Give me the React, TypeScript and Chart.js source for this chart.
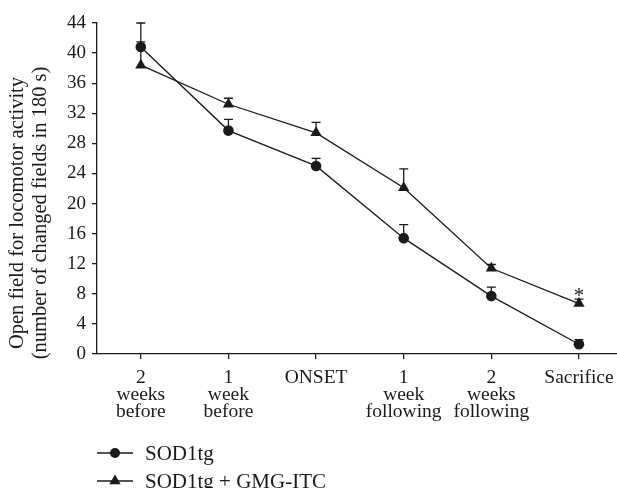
import React, { useEffect, useRef } from "react";
import { Chart, registerables } from "chart.js";

Chart.register(...registerables);

const categoryLabels: string[][] = [
  ["2", "weeks", "before"],
  ["1", "week", "before"],
  ["ONSET"],
  ["1", "week", "following"],
  ["2", "weeks", "following"],
  ["Sacrifice"],
];
const sod1Values = [40.8, 29.7, 25.0, 15.4, 7.7, 1.3];
const sod1ErrTop = [44.0, 31.2, 26.0, 17.2, 8.9, 1.9];
const gmgValues = [38.4, 33.2, 29.4, 22.1, 11.4, 6.7];
const gmgErrTop = [41.5, 34.0, 30.8, 24.6, 11.9, 7.3];
const significantIdx = [5];
const seriesNames = ["SOD1tg", "SOD1tg + GMG-ITC"];
const yTitle = ["Open field for locomotor activity", "(number of changed fields in 180 s)"];

const FONT = "'Liberation Serif', 'DejaVu Serif', serif";
const INK = "#1a1a1a";

export default function App() {
  const ref = useRef<HTMLCanvasElement | null>(null);
  useEffect(() => {
    if (!ref.current) return;
    const errTops = [sod1ErrTop, gmgErrTop];

    const errorBars = {
      id: "errorBars",
      beforeDatasetsDraw(chart: any) {
        const ctx = chart.ctx;
        const xs = chart.scales.x;
        const ys = chart.scales.y;
        ctx.save();
        ctx.strokeStyle = INK;
        ctx.lineWidth = 1.3;
        chart.data.datasets.forEach((ds: any, i: number) => {
          ds.data.forEach((p: any, j: number) => {
            const x = xs.getPixelForValue(p.x);
            const y0 = ys.getPixelForValue(p.y);
            const y1 = ys.getPixelForValue(errTops[i][j]);
            ctx.beginPath();
            ctx.moveTo(x, y0);
            ctx.lineTo(x, y1);
            ctx.moveTo(x - 4.5, y1);
            ctx.lineTo(x + 4.5, y1);
            ctx.stroke();
          });
        });
        ctx.restore();
      },
      afterDatasetsDraw(chart: any) {
        const ctx = chart.ctx;
        const xs = chart.scales.x;
        const ys = chart.scales.y;
        ctx.save();
        ctx.fillStyle = INK;
        ctx.font = `21px ${FONT}`;
        ctx.textAlign = "center";
        ctx.textBaseline = "alphabetic";
        significantIdx.forEach((j) => {
          const x = xs.getPixelForValue(j);
          const y = ys.getPixelForValue(gmgErrTop[j]);
          ctx.fillText("*", x, y + 3);
        });
        ctx.restore();
      },
    };

    const yTitlePlugin = {
      id: "yTitlePlugin",
      afterDraw(chart: any) {
        const ctx = chart.ctx;
        ctx.save();
        ctx.fillStyle = INK;
        ctx.font = `20.5px ${FONT}`;
        ctx.textAlign = "center";
        ctx.textBaseline = "middle";
        const xs = [18, 41];
        const cy = 213;
        yTitle.forEach((t, i) => {
          ctx.save();
          ctx.translate(xs[i], cy);
          ctx.rotate(-Math.PI / 2);
          ctx.fillText(t, 0, 0);
          ctx.restore();
        });
        ctx.restore();
      },
    };

    const customLegend = {
      id: "customLegend",
      afterDraw(chart: any) {
        const ctx = chart.ctx;
        ctx.save();
        const rowsY = [453, 481];
        chart.data.datasets.forEach((ds: any, i: number) => {
          const y = rowsY[i];
          ctx.strokeStyle = INK;
          ctx.lineWidth = 1.3;
          ctx.beginPath();
          ctx.moveTo(97, y);
          ctx.lineTo(133, y);
          ctx.stroke();
          ctx.fillStyle = INK;
          ctx.beginPath();
          if (i === 0) {
            ctx.arc(115, y, 5, 0, Math.PI * 2);
          } else {
            const r = 6.5;
            ctx.moveTo(115, y - r);
            ctx.lineTo(115 + r * 0.866, y + r / 2);
            ctx.lineTo(115 - r * 0.866, y + r / 2);
            ctx.closePath();
          }
          ctx.fill();
          ctx.font = `21px ${FONT}`;
          ctx.textAlign = "left";
          ctx.textBaseline = "middle";
          ctx.fillText(seriesNames[i], 145, y + 1);
        });
        ctx.restore();
      },
    };

    const chart = new Chart(ref.current, {
      type: "line",
      data: {
        datasets: [
          {
            label: seriesNames[0],
            data: sod1Values.map((v, i) => ({ x: i, y: v })),
            borderColor: INK,
            backgroundColor: INK,
            borderWidth: 1.3,
            pointStyle: "circle",
            pointRadius: 5.3,
            pointBorderWidth: 0,
            tension: 0,
          },
          {
            label: seriesNames[1],
            data: gmgValues.map((v, i) => ({ x: i, y: v })),
            borderColor: INK,
            backgroundColor: INK,
            borderWidth: 1.3,
            pointStyle: "triangle",
            pointRadius: 6.5,
            pointBorderWidth: 0,
            tension: 0,
          },
        ],
      },
      options: {
        animation: false,
        responsive: false,
        maintainAspectRatio: false,
        layout: { autoPadding: false, padding: { top: 23, right: 0, bottom: 0, left: 0 } },
        plugins: {
          legend: { display: false },
          tooltip: { enabled: false },
        },
        scales: {
          x: {
            type: "linear",
            min: -0.5,
            max: 5.434,
            afterBuildTicks: (axis: any) => {
              axis.ticks = categoryLabels.map((_, i) => ({ value: i }));
            },
            afterFit: (scale: any) => {
              scale.height = 134;
              scale.paddingRight = 0;
              scale.paddingLeft = 0;
            },
            grid: {
              drawOnChartArea: false,
              drawTicks: true,
              tickLength: 5,
              color: INK,
              lineWidth: 1.3,
            },
            border: { display: true, color: INK, width: 1.3 },
            ticks: {
              autoSkip: false,
              maxRotation: 0,
              padding: 10,
              color: INK,
              font: { family: FONT, size: 19.5, lineHeight: 0.88 },
              callback: (v: any) => categoryLabels[Math.round(Number(v))] ?? "",
            },
          },
          y: {
            min: 0,
            max: 44,
            afterFit: (scale: any) => {
              scale.width = 97;
              scale.paddingTop = 0;
            },
            grid: {
              drawOnChartArea: false,
              drawTicks: true,
              tickLength: 5,
              color: INK,
              lineWidth: 1.3,
            },
            border: { display: true, color: INK, width: 1.3 },
            ticks: {
              stepSize: 2,
              padding: 6,
              color: INK,
              font: { family: FONT, size: 19 },
              callback: (v: any) => (Number(v) % 4 === 0 ? String(v) : ""),
            },
            title: { display: false },
          },
        },
      },
      plugins: [errorBars, yTitlePlugin, customLegend],
    });
    return () => chart.destroy();
  }, []);

  return (
    <div style={{ position: "absolute", left: 0, top: 0, width: 617, height: 488, background: "#fff" }}>
      <canvas ref={ref} width={617} height={488} style={{ width: 617, height: 488 }} />
    </div>
  );
}
